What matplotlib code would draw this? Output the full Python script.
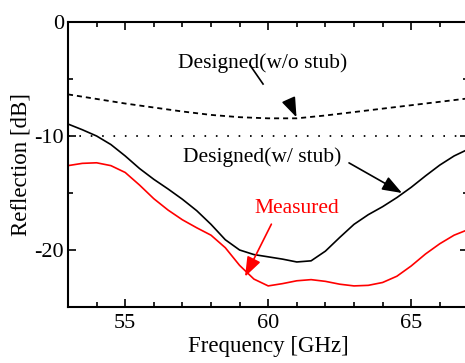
import matplotlib

matplotlib.use('Agg')
import matplotlib.pyplot as plt
from matplotlib.ticker import MultipleLocator

plt.rcParams['font.family'] = ['Liberation Serif', 'DejaVu Serif']
plt.rcParams['axes.unicode_minus'] = False

# frequency grid (GHz) and reflection values (dB)
freq = [53.0, 53.5, 54.0, 54.5, 55.0, 55.5, 56.0, 56.5, 57.0, 57.5,
        58.0, 58.5, 59.0, 59.5, 60.0, 60.5, 61.0, 61.5, 62.0, 62.5,
        63.0, 63.5, 64.0, 64.5, 65.0, 65.5, 66.0, 66.5, 67.0]
designed_stub = [-8.95, -9.45, -10.0, -10.75, -11.75, -12.85, -13.8, -14.65, -15.55, -16.55,
                 -17.75, -19.1, -20.0, -20.4, -20.6, -20.8, -21.05, -20.95, -20.1, -18.9,
                 -17.75, -16.9, -16.2, -15.4, -14.5, -13.5, -12.55, -11.75, -11.15]
measured = [-12.6, -12.4, -12.35, -12.6, -13.2, -14.3, -15.5, -16.5, -17.35, -18.05,
            -18.7, -19.8, -21.35, -22.55, -23.15, -22.95, -22.7, -22.6, -22.75, -23.0,
            -23.15, -23.1, -22.85, -22.3, -21.4, -20.35, -19.45, -18.7, -18.2]

freq_nostub = [53, 54, 55, 56, 57, 58, 59, 60, 61, 62, 63, 64, 65, 66, 67]
designed_nostub = [-6.35, -6.75, -7.15, -7.5, -7.85, -8.15, -8.35, -8.45, -8.45,
                   -8.2, -7.9, -7.6, -7.3, -7.0, -6.7]

threshold = -10

fig = plt.figure(figsize=(4.65, 3.63), dpi=100)
ax = fig.add_axes([68 / 465, 1 - 307 / 363, 400.4 / 465, 285 / 363])

ax.plot(freq_nostub, designed_nostub, color='k', lw=1.3, linestyle=(0, (2.8, 2.2)))
ax.axhline(threshold, color='k', lw=1.3, linestyle=(0, (0.9, 5.4)))
ax.plot(freq, designed_stub, color='k', lw=1.2)
ax.plot(freq, measured, color='#ff0000', lw=1.2)

ax.set_xlim(53, 67)
ax.set_ylim(-25, 0)
ax.xaxis.set_major_locator(MultipleLocator(5))
ax.xaxis.set_minor_locator(MultipleLocator(1))
ax.yaxis.set_major_locator(MultipleLocator(10))
ax.yaxis.set_minor_locator(MultipleLocator(5))
ax.tick_params(which='both', direction='in', top=True, right=True, width=1.2)
ax.tick_params(which='major', length=6, labelsize=16)
ax.tick_params(which='minor', length=3.5)
ax.tick_params(axis='x', pad=5)
ax.tick_params(axis='y', pad=3)
for sp in ax.spines.values():
    sp.set_linewidth(1.5)

ax.set_xlabel('Frequency [GHz]', fontsize=16.5, labelpad=2)
ax.set_ylabel('Reflection [dB]', fontsize=16.5, labelpad=2)

head = '-|>,head_length=0.6,head_width=0.22'

# Designed (w/o stub): short leader plus a separate arrow head on the curve
ax.text(59.8, -3.6, 'Designed(w/o stub)', fontsize=15.5, ha='center', va='center')
ax.plot([59.36, 59.82], [-3.77, -5.44], color='k', lw=1.2)
ax.annotate('', xy=(60.99, -8.36), xytext=(60.73, -6.9),
            arrowprops=dict(arrowstyle=head, mutation_scale=20, color='k', lw=1.2,
                            shrinkA=0, shrinkB=0))

ax.annotate('Designed(w/ stub)', xy=(64.68, -15.0), xytext=(59.78, -11.84),
            fontsize=15.5, ha='center', va='center',
            arrowprops=dict(arrowstyle=head, mutation_scale=20, color='k', lw=1.2,
                            shrinkA=0, shrinkB=0, relpos=(1.05, 0.2)))

ax.annotate('Measured', xy=(59.19, -22.34), xytext=(61.0, -16.4),
            fontsize=15.5, ha='center', va='center', color='#ff0000',
            arrowprops=dict(arrowstyle=head, mutation_scale=20, color='#ff0000', lw=1.2,
                            shrinkA=0, shrinkB=0, relpos=(0.2, -0.3)))

fig.savefig('out.png', dpi=100)
